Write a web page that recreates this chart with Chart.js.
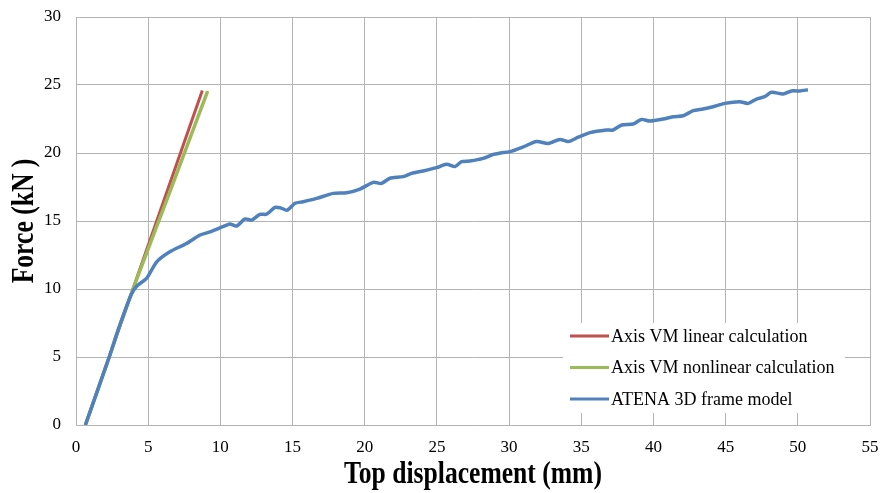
<!DOCTYPE html>
<html>
<head>
<meta charset="utf-8">
<script src="https://cdn.jsdelivr.net/npm/chart.js@4.4.1/dist/chart.umd.min.js"></script>
<style>
    html, body { margin: 0; padding: 0; background: #ffffff; }
    #wrap { width: 882px; height: 493px; }
</style>
</head>
<body>
<div id="wrap"><canvas id="myChart" width="882" height="493"></canvas></div>
<script>
// Axis VM linear calculation
const linearX = [0.65, 8.75];
const linearY = [0, 24.6];

// Axis VM nonlinear calculation
const nonlinearX = [0.65, 2.3, 3.0, 4.2, 6.5, 9.12];
const nonlinearY = [0, 5.0, 7.23, 10.7, 17.15, 24.55];

// ATENA 3D frame model
const atenaX = [0.65, 2.31, 3.0, 3.81, 4.2, 4.9, 5.59, 6.5, 7.66, 8.59, 9.28, 10.43, 10.66, 11.13, 11.7, 12.17,
    12.74, 13.2, 13.78, 14.13, 14.63, 15.17, 15.74, 16.67, 17.82, 18.75, 19.67, 20.59, 21.17, 21.74,
    22.67, 23.25, 24.05, 24.98, 25.67, 26.25, 26.71, 27.29, 28.2, 28.9, 29.4, 30.06, 30.98, 31.9, 32.71,
    33.52, 34.09, 34.79, 35.6, 36.75, 37.2, 37.8, 38.6, 39.17, 39.75, 40.67, 41.36, 42.06, 42.75,
    43.44, 44.13, 44.94, 45.98, 46.56, 47.14, 47.7, 48.17, 48.98, 49.56, 50.14, 50.7];
const atenaY = [0, 5.02, 7.23, 9.56, 10.2, 10.8, 12.0, 12.74, 13.35, 13.97, 14.2, 14.7, 14.78, 14.63, 15.15, 15.07,
    15.49, 15.5, 16.0, 15.98, 15.8, 16.3, 16.42, 16.66, 17.03, 17.08, 17.35, 17.84, 17.77, 18.14,
    18.26, 18.5, 18.68, 18.92, 19.17, 19.0, 19.36, 19.41, 19.6, 19.9, 20.0, 20.1, 20.45, 20.85, 20.7,
    21.0, 20.84, 21.16, 21.5, 21.69, 21.69, 22.06, 22.13, 22.47, 22.35, 22.5, 22.67, 22.74, 23.11,
    23.24, 23.4, 23.65, 23.77, 23.65, 23.97, 24.14, 24.46, 24.34, 24.56, 24.56, 24.65];

const xTicks = [0, 5, 10, 15, 20, 25, 30, 35, 40, 45, 50, 55];
const yTicks = [0, 5, 10, 15, 20, 25, 30];

const tituloX = 'Top displacement (mm)';
const tituloY = 'Force (kN )';

function pares(xs, ys) {
    let pontos = [];
    for (let i = 0; i < xs.length; i++) {
        pontos.push({ x: xs[i], y: ys[i] });
    }
    return pontos;
}

const fonte = "'Liberation Serif', 'Times New Roman', serif";
const corGrade = '#b4b4b4';

// legend drawn inside the plot, with a white box over the grid
const legendaInterna = {
    id: 'legendaInterna',
    afterDraw(chart) {
        const ctx = chart.ctx;
        const itens = chart.data.datasets;
        ctx.save();
        ctx.fillStyle = '#ffffff';
        ctx.fillRect(563, 323, 282, 90);
        ctx.font = "18px " + fonte;
        ctx.textBaseline = 'middle';
        for (let i = 0; i < itens.length; i++) {
            const y = 336 + i * 31.5;
            ctx.strokeStyle = itens[i].borderColor;
            ctx.lineWidth = 3;
            ctx.beginPath();
            ctx.moveTo(570, y);
            ctx.lineTo(609, y);
            ctx.stroke();
            ctx.fillStyle = '#000000';
            ctx.fillText(itens[i].label, 611, y + 1);
        }
        ctx.restore();
    }
};

// axis titles in a narrow bold serif (squeezed along the text)
const titulosEixos = {
    id: 'titulosEixos',
    afterDraw(chart) {
        const ctx = chart.ctx;
        const area = chart.chartArea;
        ctx.save();
        ctx.font = "bold 32px " + fonte;
        ctx.fillStyle = '#000000';
        ctx.textAlign = 'center';
        ctx.textBaseline = 'alphabetic';

        ctx.save();
        ctx.translate((area.left + area.right) / 2, 483);
        ctx.scale(0.8, 1);
        ctx.fillText(tituloX, 0, 0);
        ctx.restore();

        ctx.save();
        ctx.translate(33, (area.top + area.bottom) / 2);
        ctx.rotate(-Math.PI / 2);
        ctx.scale(0.8, 1);
        ctx.fillText(tituloY, 0, 0);
        ctx.restore();

        ctx.restore();
    }
};

const data = {
    datasets: [{
        label: 'Axis VM linear calculation',
        data: pares(linearX, linearY),
        borderColor: '#C0504D',
        borderWidth: 3,
        pointRadius: 0,
        fill: false,
        order: 3
    },
    {
        label: 'Axis VM nonlinear calculation',
        data: pares(nonlinearX, nonlinearY),
        borderColor: '#9BBB59',
        borderWidth: 3.5,
        pointRadius: 0,
        fill: false,
        tension: 0.2,
        order: 2
    },
    {
        label: 'ATENA 3D frame model',
        data: pares(atenaX, atenaY),
        borderColor: '#4F81BD',
        borderWidth: 3.5,
        pointRadius: 0,
        fill: false,
        tension: 0.25,
        order: 1
    }]
};

// tick marks are invisible; their length only sets the gap to the labels
const config = {
    type: 'line',
    data: data,
    plugins: [legendaInterna, titulosEixos],
    options: {
        responsive: false,
        animation: false,
        layout: { padding: { left: 0, right: 12, top: 17, bottom: 0 } },
        plugins: {
            legend: { display: false },
            tooltip: { enabled: false }
        },
        scales: {
            x: {
                type: 'linear',
                min: 0,
                max: 55,
                afterBuildTicks: (eixo) => { eixo.ticks = xTicks.map(v => ({ value: v })); },
                afterFit: (eixo) => { eixo.height = 68; },
                grid: { color: corGrade, lineWidth: 1, drawTicks: true, tickLength: 12, tickColor: 'rgba(0,0,0,0)' },
                border: { color: corGrade, width: 1 },
                ticks: { color: '#000000', padding: 0, maxRotation: 0, font: { family: fonte, size: 17 } }
            },
            y: {
                type: 'linear',
                min: 0,
                max: 30,
                afterBuildTicks: (eixo) => { eixo.ticks = yTicks.map(v => ({ value: v })); },
                afterFit: (eixo) => { eixo.width = 76; },
                grid: { color: corGrade, lineWidth: 1, drawTicks: true, tickLength: 15, tickColor: 'rgba(0,0,0,0)' },
                border: { color: corGrade, width: 1 },
                ticks: { color: '#000000', padding: 0, font: { family: fonte, size: 17 } }
            }
        }
    }
};

const myChart = new Chart(document.getElementById('myChart'), config);
</script>
</body>
</html>
